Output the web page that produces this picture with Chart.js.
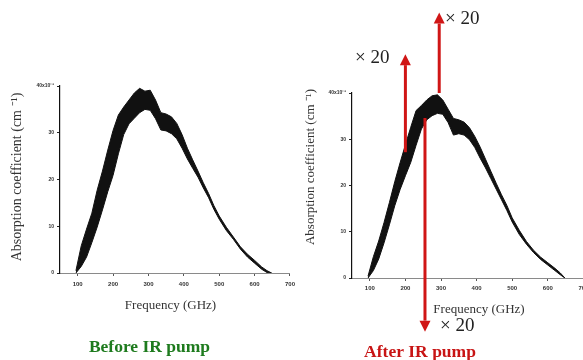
<!DOCTYPE html>
<html>
<head>
<meta charset="utf-8">
<script src="https://cdn.jsdelivr.net/npm/chart.js@4"></script>
<style>
    html, body { margin: 0; padding: 0; background: #fff; overflow: hidden; }
    #wrap { position: relative; width: 583px; height: 360px; overflow: hidden; }
    canvas { position: absolute; top: 0; }
</style>
</head>
<body>
<div id="wrap">
    <canvas id="beforeChart" width="300" height="360" style="left:0px"></canvas>
    <canvas id="afterChart" width="310" height="360" style="left:290px"></canvas>
</div>
<script>
// frequency grid (GHz) shared by both spectra
const freqs = [95, 110, 125, 140, 155, 170, 185, 200, 215, 230, 245, 260, 275, 290, 305, 320, 335, 350,
    365, 380, 395, 410, 425, 440, 455, 470, 485, 500, 520, 540, 560, 580, 600, 620, 635, 648];

// noisy trace read as upper / lower edge of the black band (x10^-3 cm^-1)
const beforeUpper = [0.5, 5.8, 9.4, 12.8, 17.7, 21.8, 26.3, 30.5, 33.8, 35.5, 37.0, 38.5, 39.5, 38.9, 39.1, 37.0, 34.3, 34.0,
    33.4, 32.0, 29.6, 26.7, 24.2, 21.8, 19.3, 17.0, 14.4, 12.2, 9.8, 7.7, 5.6, 4.0, 2.7, 1.3, 0.5, 0];
const beforeLower = [0, 1.4, 3.4, 6.5, 9.8, 13.5, 17.4, 20.9, 25.5, 29.6, 31.9, 33.1, 34.3, 35.0, 34.8, 33.0, 30.6, 30.4,
    29.8, 28.7, 26.7, 24.4, 22.4, 20.5, 18.2, 16.1, 13.6, 11.5, 9.1, 7.2, 5.1, 3.4, 2.1, 0.8, 0.1, 0];

const afterUpper = [0.4, 4.6, 8.0, 12.0, 16.3, 20.8, 24.9, 28.8, 32.6, 36.2, 37.3, 38.5, 39.4, 39.6, 38.5, 36.5, 34.5, 34.2,
    33.7, 32.5, 30.6, 28.3, 25.7, 23.1, 20.5, 18.0, 15.7, 13.0, 10.3, 7.9, 6.0, 4.5, 3.3, 2.1, 1.1, 0];
const afterLower = [0, 1.6, 4.1, 7.6, 11.5, 15.6, 19.1, 22.1, 25.0, 28.7, 32.2, 34.2, 35.1, 35.6, 35.4, 33.6, 30.9, 31.2,
    30.9, 29.9, 28.2, 25.9, 23.8, 21.5, 19.2, 16.9, 14.6, 12.1, 9.4, 7.3, 5.5, 4.0, 2.8, 1.6, 0.7, 0];

const xTicks = [100, 200, 300, 400, 500, 600, 700];
const yTicks = [0, 10, 20, 30, 40];

// red "x 20" arrows on the after-pump plot (frequency, start value, tip value)
const arrows = [
    { freq: 200, from: 27.2, to: 48.4 },
    { freq: 295, from: 40.0, to: 57.4 },
    { freq: 255, from: 34.6, to: -11.6 }
];

const SERIF = '"Liberation Serif", "Times New Roman", serif';
const RED = '#d01616';

const textPlugin = {
    id: 'textLayer',
    afterDraw(chart, args, opts) {
        const ctx = chart.ctx;
        (opts.items || []).forEach(t => {
            ctx.save();
            ctx.font = t.font;
            ctx.fillStyle = t.color || '#333';
            ctx.textAlign = t.align || 'center';
            ctx.textBaseline = 'alphabetic';
            ctx.translate(t.x, t.y);
            if (t.rotate) ctx.rotate(t.rotate);
            ctx.fillText(t.text, 0, 0);
            ctx.restore();
        });
    }
};

const arrowPlugin = {
    id: 'arrowLayer',
    afterDatasetsDraw(chart, args, opts) {
        if (!opts.list) return;
        const ctx = chart.ctx;
        const xs = chart.scales.x, ys = chart.scales.y;
        ctx.save();
        ctx.strokeStyle = RED;
        ctx.fillStyle = RED;
        ctx.lineWidth = 3;
        opts.list.forEach(a => {
            const x = xs.getPixelForValue(a.freq);
            const y0 = ys.getPixelForValue(a.from);
            const y1 = ys.getPixelForValue(a.to);
            const dir = y1 < y0 ? 1 : -1;
            const head = 11;
            ctx.beginPath();
            ctx.moveTo(x, y0);
            ctx.lineTo(x, y1 + dir * head);
            ctx.stroke();
            ctx.beginPath();
            ctx.moveTo(x, y1);
            ctx.lineTo(x - 5.5, y1 + dir * head);
            ctx.lineTo(x + 5.5, y1 + dir * head);
            ctx.closePath();
            ctx.fill();
        });
        ctx.restore();
    }
};

function makeSpectrum(canvasId, upper, lower, box, texts, arrowList) {
    const ctx = document.getElementById(canvasId).getContext('2d');
    const toPts = arr => freqs.map((f, i) => ({ x: f, y: arr[i] }));
    return new Chart(ctx, {
        type: 'line',
        data: {
            datasets: [{
                data: toPts(upper),
                borderColor: '#111',
                borderWidth: 1,
                pointRadius: 0,
                tension: 0,
                fill: false
            }, {
                data: toPts(lower),
                borderColor: '#111',
                borderWidth: 1,
                pointRadius: 0,
                tension: 0,
                fill: '-1',
                backgroundColor: '#111'
            }]
        },
        options: {
            responsive: false,
            animation: false,
            devicePixelRatio: 1,
            layout: { padding: box.padding },
            scales: {
                x: {
                    type: 'linear',
                    min: 50,
                    max: 700,
                    afterBuildTicks: axis => { axis.ticks = xTicks.map(v => ({ value: v })); },
                    afterFit: axis => { axis.height = 20; },
                    border: { display: true, color: '#8a8a8a', width: 1 },
                    grid: { drawOnChartArea: false, drawTicks: true, tickLength: 3, color: '#555' },
                    ticks: {
                        padding: box.xPad,
                        maxRotation: 0,
                        autoSkip: false,
                        color: '#333',
                        font: { family: 'Liberation Sans', size: 6, weight: 'bold' }
                    }
                },
                y: {
                    min: 0,
                    max: 40,
                    afterBuildTicks: axis => { axis.ticks = yTicks.map(v => ({ value: v })); },
                    afterFit: axis => { axis.width = box.yWidth; },
                    border: { display: true, color: '#111', width: 1.2 },
                    grid: { drawOnChartArea: false, drawTicks: true, tickLength: 3, color: '#222' },
                    ticks: {
                        padding: 3,
                        color: '#333',
                        font: { family: 'Liberation Sans', size: 5, weight: 'bold' },
                        callback: v => v === 40 ? '40x10\u207B\u00B3' : String(v)
                    }
                }
            },
            plugins: {
                legend: { display: false },
                tooltip: { enabled: false },
                textLayer: { items: texts },
                arrowLayer: { list: arrowList }
            }
        },
        plugins: [textPlugin, arrowPlugin]
    });
}

makeSpectrum('beforeChart', beforeUpper, beforeLower,
    { padding: { left: 0, right: 8, top: 86, bottom: 67 }, yWidth: 60, xPad: 5 },
    [
        { text: 'Absorption coefficient (cm \u207B\u00B9)', x: 20.5, y: 177, rotate: -Math.PI / 2, font: '14px ' + SERIF },
        { text: 'Frequency (GHz)', x: 170.5, y: 309, font: '13px ' + SERIF },
        { text: 'Before IR pump', x: 149.5, y: 352, font: 'bold 17.5px ' + SERIF, color: '#1e7b1e' }
    ],
    null);

makeSpectrum('afterChart', afterUpper, afterLower,
    { padding: { left: 0, right: 16.6, top: 93, bottom: 62 }, yWidth: 62, xPad: 4 },
    [
        { text: 'Absorption coefficient (cm \u207B\u00B9)', x: 24, y: 167, rotate: -Math.PI / 2, font: '13px ' + SERIF },
        { text: 'Frequency (GHz)', x: 189, y: 313, font: '13px ' + SERIF },
        { text: 'After IR pump', x: 130, y: 357, font: 'bold 17.5px ' + SERIF, color: '#c81414' },
        { text: '\u00D7 20', x: 65, y: 63, align: 'left', font: '19px ' + SERIF, color: '#222' },
        { text: '\u00D7 20', x: 155, y: 24, align: 'left', font: '19px ' + SERIF, color: '#222' },
        { text: '\u00D7 20', x: 150, y: 331, align: 'left', font: '19px ' + SERIF, color: '#222' }
    ],
    arrows);
</script>
</body>
</html>
